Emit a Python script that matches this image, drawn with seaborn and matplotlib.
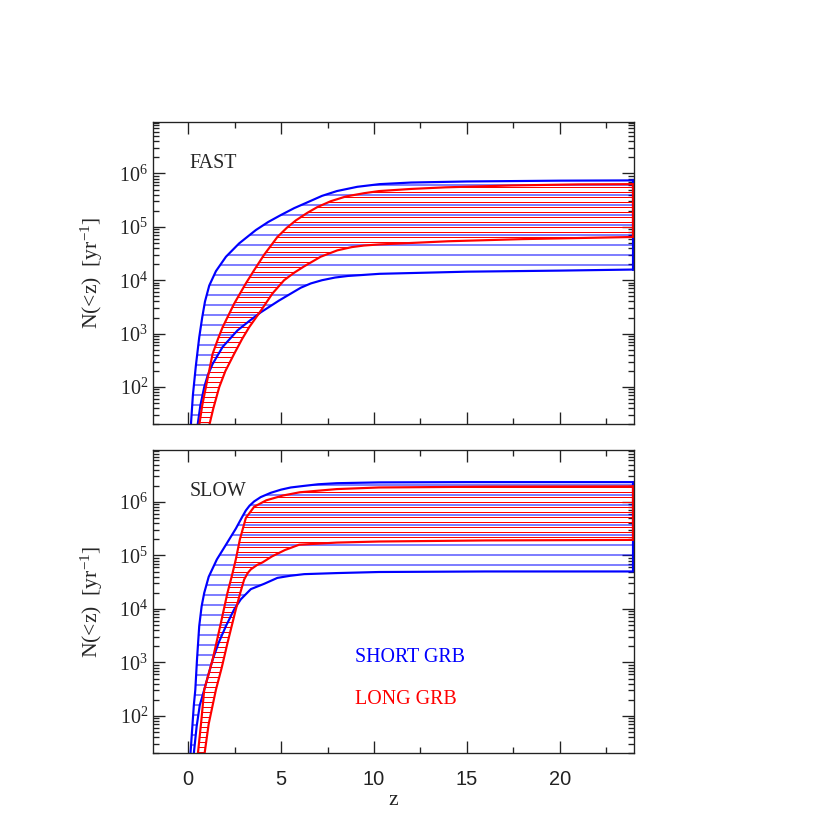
import numpy as np
import seaborn as sns
import matplotlib
matplotlib.use('Agg')
import matplotlib.pyplot as plt
from matplotlib.ticker import LogLocator, MultipleLocator, NullFormatter

# ---------------- data (log10 N(<z)) ----------------
# FAST
fast_short_up_z = [0.08, 0.14, 0.25, 0.41, 0.59, 0.75, 0.9, 1.13, 1.49, 2.03, 2.74, 3.64, 4.3, 4.98, 5.7, 6.42, 7.2, 8.0, 9.1, 10.3, 12, 15, 20, 23.95]
fast_short_up = [1.0, 1.28, 1.85, 2.4, 2.93, 3.3, 3.6, 3.9, 4.17, 4.44, 4.69, 4.94, 5.09, 5.22, 5.35, 5.46, 5.58, 5.67, 5.75, 5.80, 5.83, 5.85, 5.865, 5.87]
fast_short_lo_z = [0.45, 0.5, 0.65, 0.86, 1.05, 1.31, 1.85, 2.65, 3.3, 3.91, 4.89, 6.06, 6.6, 7.2, 7.9, 8.6, 9.46, 10.3, 15, 20, 23.95]
fast_short_lo = [1.0, 1.28, 1.65, 2.0, 2.22, 2.43, 2.75, 3.06, 3.24, 3.4, 3.62, 3.86, 3.94, 4.0, 4.05, 4.08, 4.1, 4.12, 4.16, 4.18, 4.2]
fast_long_up_z = [0.5, 0.59, 0.75, 0.95, 1.31, 1.6, 1.85, 2.47, 3.1, 3.55, 4.09, 4.8, 5.3, 5.79, 6.4, 6.95, 7.67, 8.5, 9.46, 10.27, 12, 13.85, 17.4, 21, 23.95]
fast_long_up = [1.0, 1.28, 1.65, 2.0, 2.62, 2.9, 3.12, 3.56, 3.94, 4.19, 4.48, 4.81, 4.98, 5.12, 5.26, 5.37, 5.48, 5.57, 5.63, 5.67, 5.71, 5.74, 5.775, 5.795, 5.80]
fast_long_lo_z = [1.05, 1.13, 1.35, 1.67, 2.0, 2.47, 2.9, 3.28, 3.91, 4.53, 5.16, 5.7, 6.24, 7.13, 8.03, 8.8, 9.46, 10.27, 14, 18, 23.95]
fast_long_lo = [1.0, 1.28, 1.6, 2.0, 2.3, 2.62, 2.9, 3.12, 3.43, 3.75, 4.0, 4.14, 4.26, 4.44, 4.56, 4.62, 4.65, 4.67, 4.73, 4.77, 4.81]

# SLOW
slow_short_up_z = [0.08, 0.12, 0.22, 0.3, 0.38, 0.47, 0.59, 0.72, 0.86, 1.1, 1.54, 2.03, 2.56, 2.92, 3.1, 3.3, 3.55, 3.9, 4.44, 5.0, 5.52, 6.24, 7.0, 8.0, 10.27, 15, 23.95]
slow_short_up = [1.0, 1.3, 1.8, 2.2, 2.49, 3.05, 3.68, 4.05, 4.30, 4.6, 4.925, 5.2, 5.5, 5.73, 5.84, 5.93, 6.01, 6.09, 6.17, 6.23, 6.27, 6.30, 6.33, 6.35, 6.365, 6.37, 6.37]
slow_short_lo_z = [0.25, 0.3, 0.45, 0.62, 0.86, 1.31, 1.65, 2.03, 2.47, 2.83, 3.37, 4.09, 4.8, 5.5, 6.24, 8.0, 10.27, 16, 23.95]
slow_short_lo = [1.0, 1.3, 1.8, 2.2, 2.49, 3.05, 3.38, 3.68, 3.99, 4.18, 4.37, 4.47, 4.58, 4.62, 4.65, 4.67, 4.69, 4.7, 4.7]
slow_long_up_z = [0.45, 0.52, 0.7, 0.86, 1.31, 1.72, 2.11, 2.35, 2.56, 2.78, 3.1, 3.55, 4.2, 5.1, 6.0, 8.0, 10.27, 16, 23.95]
slow_long_up = [1.0, 1.3, 1.9, 2.49, 3.05, 3.68, 4.30, 4.62, 4.925, 5.30, 5.7, 5.91, 6.03, 6.12, 6.18, 6.24, 6.27, 6.285, 6.29]
slow_long_lo_z = [0.8, 0.88, 1.1, 1.49, 1.8, 2.11, 2.56, 2.8, 3.01, 3.2, 3.37, 3.7, 4.0, 4.5, 5.2, 5.97, 8.0, 10.27, 16, 23.95]
slow_long_lo = [1.0, 1.3, 1.85, 2.49, 2.9, 3.36, 3.99, 4.3, 4.55, 4.67, 4.74, 4.82, 4.87, 4.98, 5.1, 5.2, 5.24, 5.26, 5.28, 5.29]

panel_names = ['FAST', 'SLOW']
label_short = 'SHORT GRB'
label_long = 'LONG GRB'
x_label = 'z'
y_label = r'N(<z)  [yr$^{-1}$]'

BLUE = '#0000ff'
RED = '#ff0000'

# ---------------- style ----------------
sns.set_style('ticks')
plt.rcParams['font.family'] = ['Liberation Serif', 'DejaVu Serif']
plt.rcParams['mathtext.fontset'] = 'custom'
plt.rcParams['mathtext.rm'] = 'Liberation Serif'
plt.rcParams['mathtext.it'] = 'Liberation Serif:italic'
plt.rcParams['hatch.linewidth'] = 0.6
plt.rcParams['axes.edgecolor'] = '#222222'
plt.rcParams['axes.linewidth'] = 0.8


def draw_band(ax, z_up, n_up, z_lo, n_lo, color, hatch):
    z_up = np.array(z_up)
    z_lo = np.array(z_lo)
    up = 10 ** np.array(n_up)
    lo = 10 ** np.array(n_lo)
    # hatched region between the two curves
    ax.fill(np.concatenate([z_up, z_lo[::-1]]), np.concatenate([up, lo[::-1]]),
            facecolor='none', edgecolor=color, hatch=hatch, linewidth=0)
    sns.lineplot(x=z_up, y=up, ax=ax, color=color, lw=1.3)
    sns.lineplot(x=z_lo, y=lo, ax=ax, color=color, lw=1.3)
    # close the band at the right edge
    ax.plot([z_up[-1], z_lo[-1]], [up[-1], lo[-1]], color=color, lw=1.3)


fig = plt.figure(figsize=(830 / 120, 830 / 120), dpi=120)
ax_top = fig.add_axes([0.1843, 0.4888, 0.5796, 0.3646])
ax_bot = fig.add_axes([0.1843, 0.0924, 0.5796, 0.3654])

draw_band(ax_top, fast_short_up_z, fast_short_up, fast_short_lo_z, fast_short_lo, BLUE, '--')
draw_band(ax_top, fast_long_up_z, fast_long_up, fast_long_lo_z, fast_long_lo, RED, '----')
draw_band(ax_bot, slow_short_up_z, slow_short_up, slow_short_lo_z, slow_short_lo, BLUE, '--')
draw_band(ax_bot, slow_long_up_z, slow_long_up, slow_long_lo_z, slow_long_lo, RED, '----')

for ax, name in zip([ax_top, ax_bot], panel_names):
    ax.set_yscale('log')
    ax.set_xlim(-1.9, 24)
    ax.set_ylim(20, 10 ** 6.97)
    ax.xaxis.set_major_locator(MultipleLocator(5))
    ax.xaxis.set_minor_locator(MultipleLocator(2.5))
    ax.yaxis.set_major_locator(LogLocator(base=10, numticks=12))
    ax.yaxis.set_minor_locator(LogLocator(base=10, subs=np.arange(2, 10), numticks=12))
    ax.yaxis.set_minor_formatter(NullFormatter())
    ax.tick_params(which='both', direction='in', top=True, right=True, colors='#222222', labelsize=12)
    ax.tick_params(which='major', length=7, width=0.8)
    ax.tick_params(which='minor', length=3.5, width=0.8)
    ax.tick_params(axis='x', pad=10, labelfontfamily='Liberation Sans')
    ax.tick_params(axis='y', pad=3)
    ax.set_ylabel(y_label, fontsize=13)
    ax.yaxis.set_label_coords(-0.1, 0.5)
    ax.text(0.05, 10 ** 6.19, name, fontsize=12, ha='left', va='center')

ax_top.tick_params(axis='x', labelbottom=False)
ax_top.set_xlabel('')
ax_bot.set_xlabel(x_label, fontsize=13, labelpad=1)

ax_bot.text(9.0, 10 ** 3.09, label_short, color=BLUE, fontsize=12, ha='left', va='center')
ax_bot.text(9.0, 10 ** 2.30, label_long, color=RED, fontsize=12, ha='left', va='center')

fig.savefig('out.png', dpi=120)
